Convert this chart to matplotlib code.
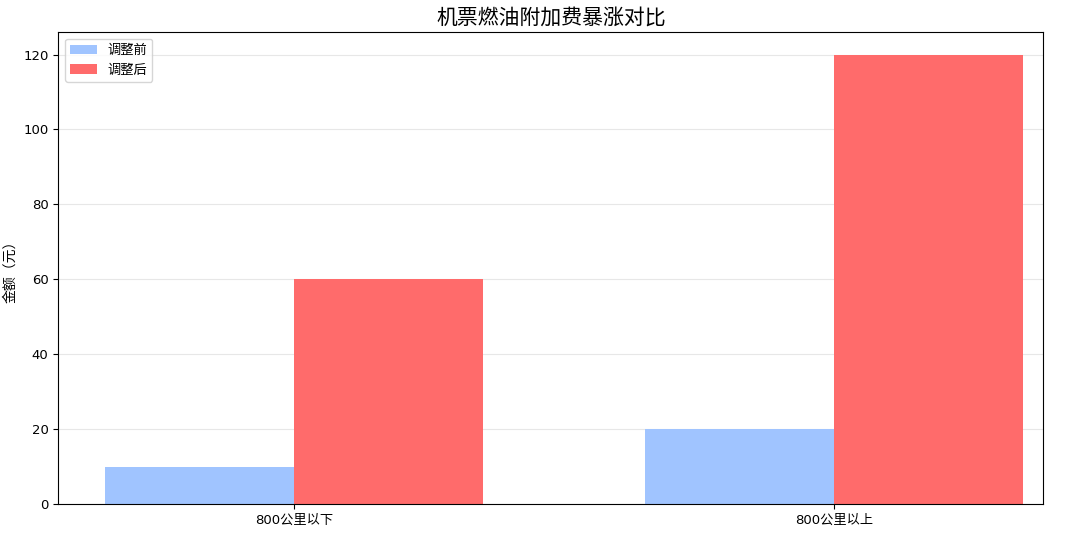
import matplotlib
matplotlib.use('Agg')
import matplotlib.pyplot as plt
import numpy as np

plt.rcParams['font.family'] = ['DejaVu Sans', 'Noto Sans CJK SC']
plt.rcParams['axes.unicode_minus'] = False

categories = ['800公里以下', '800公里以上']
before = [10, 20]
after = [60, 120]

x = np.arange(len(categories))
width = 0.35

fig, ax = plt.subplots(figsize=(10.8, 5.35), dpi=100)
ax.bar(x - width / 2, before, width, label='调整前', color='#a0c4ff')
ax.bar(x + width / 2, after, width, label='调整后', color='#ff6b6b')

ax.set_title('机票燃油附加费暴涨对比', fontsize=15)
ax.set_ylabel('金额（元）', fontsize=10)
ax.set_xticks(x)
ax.set_xticklabels(categories, fontsize=9.5)
ax.tick_params(axis='y', labelsize=9.5)
ax.set_xlim(-0.437, 1.387)
ax.grid(axis='y', alpha=0.3)
ax.set_axisbelow(True)
ax.legend(loc='upper left', fontsize=9.5)

fig.subplots_adjust(left=0.054, right=0.966, top=0.94, bottom=0.058)
fig.savefig('out.png', dpi=100)
